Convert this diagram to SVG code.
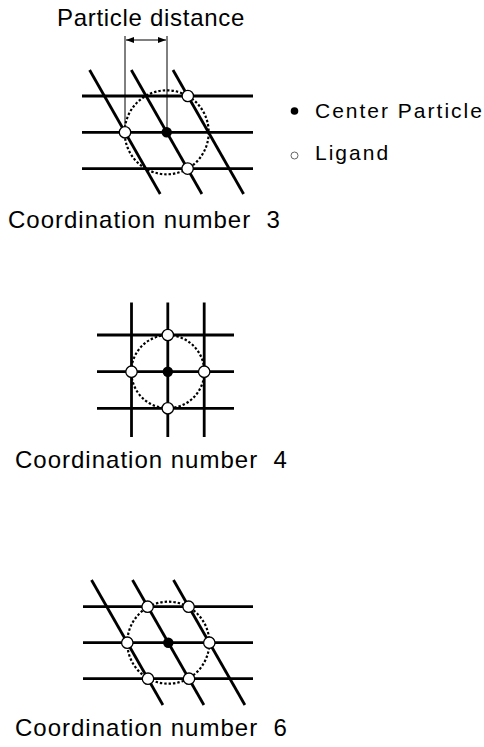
<svg xmlns="http://www.w3.org/2000/svg" width="484" height="747" viewBox="0 0 484 747">
<style>
text{font-family:"Liberation Sans",Arial,sans-serif;fill:#000}
.lbl{font-size:24px;letter-spacing:1px}
.leg{font-size:21px;letter-spacing:2px}
.lat{stroke:#000;stroke-width:2.8;fill:none;stroke-linecap:butt}
.dot{stroke:#000;stroke-width:2.2;fill:none;stroke-dasharray:2.4 2}
.lig{fill:#fff;stroke:#000;stroke-width:1.3}
.cen{fill:#000}
.thin{stroke:#000;stroke-width:1;fill:none}
</style>
<defs>
<marker id="ah" viewBox="0 0 8 6" refX="8" refY="3" markerWidth="8" markerHeight="6" markerUnits="userSpaceOnUse" orient="auto-start-reverse">
<path d="M0,0 L8,3 L0,6 Z" fill="#000"/>
</marker>
</defs>
<rect width="484" height="747" fill="#fff"/>

<g id="fig-cn3">
  <g id="cn3-lattice">
    <line class="lat" x1="82" y1="96" x2="253" y2="96"/>
    <line class="lat" x1="82" y1="132.3" x2="253" y2="132.3"/>
    <line class="lat" x1="82" y1="168.6" x2="253" y2="168.6"/>
    <line class="lat" x1="89.6" y1="70" x2="160.2" y2="194"/>
    <line class="lat" x1="131.3" y1="70" x2="201.9" y2="194"/>
    <line class="lat" x1="173" y1="70" x2="243.6" y2="194"/>
  </g>
  <circle class="dot" cx="166.7" cy="132.3" r="42"/>
  <g id="cn3-distance">
    <line class="thin" x1="125" y1="36" x2="125" y2="132"/>
    <line class="thin" x1="167" y1="36" x2="167" y2="132"/>
    <line class="thin" x1="126" y1="40" x2="166" y2="40" marker-start="url(#ah)" marker-end="url(#ah)"/>
    <text class="lbl" x="57" y="26" style="letter-spacing:0.7px">Particle distance</text>
  </g>
  <g id="cn3-center"><circle class="cen" cx="166.7" cy="132.3" r="5.2"/></g>
  <g id="cn3-lig1"><circle class="lig" cx="125" cy="132.3" r="5.7"/></g>
  <g id="cn3-lig2"><circle class="lig" cx="187.8" cy="96" r="5.7"/></g>
  <g id="cn3-lig3"><circle class="lig" cx="187.6" cy="168.6" r="5.7"/></g>
  <text class="lbl" x="8" y="228.3">Coordination number&#160; 3</text>
</g>

<g id="legend">
  <g id="legend-center">
    <circle class="cen" cx="294.5" cy="111" r="3.8"/>
    <text class="leg" x="315" y="118">Center Particle</text>
  </g>
  <g id="legend-ligand">
    <circle cx="294.5" cy="155.5" r="3.5" fill="#fff" stroke="#555" stroke-width="0.9"/>
    <text class="leg" x="315" y="160">Ligand</text>
  </g>
</g>

<g id="fig-cn4">
  <g id="cn4-lattice">
    <line class="lat" x1="97" y1="335" x2="234" y2="335"/>
    <line class="lat" x1="97" y1="371.7" x2="234" y2="371.7"/>
    <line class="lat" x1="97" y1="408.3" x2="234" y2="408.3"/>
    <line class="lat" x1="131.5" y1="302.5" x2="131.5" y2="437"/>
    <line class="lat" x1="167.8" y1="302.5" x2="167.8" y2="437"/>
    <line class="lat" x1="204.2" y1="302.5" x2="204.2" y2="437"/>
  </g>
  <circle class="dot" cx="167.8" cy="371.7" r="36.5"/>
  <g id="cn4-center"><circle class="cen" cx="167.8" cy="371.7" r="5.2"/></g>
  <g id="cn4-lig1"><circle class="lig" cx="167.8" cy="335" r="5.7"/></g>
  <g id="cn4-lig2"><circle class="lig" cx="131.5" cy="371.7" r="5.7"/></g>
  <g id="cn4-lig3"><circle class="lig" cx="204.2" cy="371.7" r="5.7"/></g>
  <g id="cn4-lig4"><circle class="lig" cx="167.8" cy="408.3" r="5.7"/></g>
  <text class="lbl" x="15" y="467.7">Coordination number&#160; 4</text>
</g>

<g id="fig-cn6">
  <g id="cn6-lattice">
    <line class="lat" x1="83" y1="606.7" x2="253" y2="606.7"/>
    <line class="lat" x1="83" y1="642.7" x2="253" y2="642.7"/>
    <line class="lat" x1="83" y1="678.7" x2="253" y2="678.7"/>
    <line class="lat" x1="91.5" y1="580" x2="162.9" y2="705"/>
    <line class="lat" x1="132.5" y1="580" x2="203.9" y2="705"/>
    <line class="lat" x1="173.5" y1="580" x2="244.9" y2="705"/>
  </g>
  <circle class="dot" cx="168.3" cy="642.7" r="41"/>
  <g id="cn6-center"><circle class="cen" cx="168.3" cy="642.7" r="5.2"/></g>
  <g id="cn6-lig1"><circle class="lig" cx="127.3" cy="642.7" r="5.7"/></g>
  <g id="cn6-lig2"><circle class="lig" cx="209.3" cy="642.7" r="5.7"/></g>
  <g id="cn6-lig3"><circle class="lig" cx="147.6" cy="606.7" r="5.7"/></g>
  <g id="cn6-lig4"><circle class="lig" cx="188.6" cy="606.7" r="5.7"/></g>
  <g id="cn6-lig5"><circle class="lig" cx="148" cy="678.7" r="5.7"/></g>
  <g id="cn6-lig6"><circle class="lig" cx="189" cy="678.7" r="5.7"/></g>
  <text class="lbl" x="15" y="736">Coordination number&#160; 6</text>
</g>
</svg>
